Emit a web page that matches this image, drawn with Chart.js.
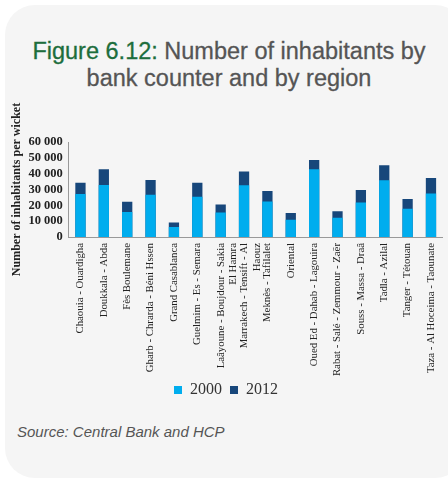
<!DOCTYPE html>
<html>
<head>
<meta charset="utf-8">
<script src="https://cdn.jsdelivr.net/npm/chart.js@4.4.0/dist/chart.umd.min.js"></script>
<style>
  html, body { margin: 0; padding: 0; background: #fff; width: 448px; height: 480px; overflow: hidden; }
  .card {
    position: absolute; left: 5px; top: 5px; width: 460px; height: 473px;
    background: #f5f5f5; border-radius: 30px;
  }
  .title {
    position: absolute; left: 0; top: 38px; width: 458px; text-align: center;
    font-family: "Liberation Sans", Arial, sans-serif; font-size: 23.5px; line-height: 27px; color: #555;
    -webkit-text-stroke: 0.3px #555;
  }
  .title b { color: #1d6e3d; font-weight: normal; -webkit-text-stroke: 0.3px #1d6e3d; }
  .wrap { position: absolute; left: 8px; top: 92px; width: 438px; height: 316px; }
  .source {
    position: absolute; left: 17px; top: 423px;
    font-family: "Liberation Sans", Arial, sans-serif; font-style: italic; font-size: 15px; color: #555;
  }
</style>
</head>
<body>
<div class="card"></div>
<div class="title"><b>Figure 6.12:</b> Number of inhabitants by<br>bank counter and by region</div>
<div class="wrap"><canvas id="chart"></canvas></div>
<div class="source">Source: Central Bank and HCP</div>
<script>
var regions = [
  'Chaouia - Ouardigha', 'Doukkala - Abda', 'Fès Boulemane', 'Gharb - Chrarda - Béni Hssen',
  'Grand Casablanca', 'Guelmim - Es - Semara', ['Laâyoune - Boujdour - Sakia', 'El Hamra'],
  ['Marrakech - Tensift - Al', 'Haouz'], 'Meknès - Tafilalet', 'Oriental', 'Oued Ed - Dahab - Lagouira',
  'Rabat - Salé - Zemmour - Zaër', 'Souss - Massa - Draâ', 'Tadla - Azilal', 'Tanger - Tétouan',
  'Taza - Al Hoceima - Taounate'
];
var values2000 = [27100, 32900, 15800, 26700, 6300, 25500, 15400, 32700, 22400, 10900, 42800, 12100, 21800, 35800, 17800, 27500];
var values2012 = [34300, 42800, 22200, 36000, 9100, 34300, 20600, 41400, 29100, 15200, 48700, 16200, 29700, 45300, 24000, 37200];
var yTicks = [0, 10000, 20000, 30000, 40000, 50000, 60000];

var serif = '"Liberation Serif", "Times New Roman", serif';

// long rotated region names must not be cut at the bottom of the x scale box
var noLabelClip = {
  id: 'noLabelClip',
  beforeDraw: function (chart) {
    chart.scales.x._computeLabelArea = function () { return undefined; };
  }
};

var ctx = document.getElementById('chart');
var chart = new Chart(ctx, {
  type: 'bar',
  data: {
    labels: regions,
    datasets: [
      { label: '2000', data: values2000, backgroundColor: '#00adee' },
      { label: '2012', data: values2012, backgroundColor: '#17477b' }
    ]
  },
  plugins: [noLabelClip],
  options: {
    responsive: true,
    maintainAspectRatio: false,
    animation: false,
    categoryPercentage: 0.44,
    barPercentage: 1,
    layout: { padding: { top: 50, right: 2 } },
    plugins: {
      tooltip: { enabled: false },
      legend: {
        position: 'bottom',
        labels: {
          boxWidth: 8, boxHeight: 8, padding: 8, color: '#333',
          font: { family: serif, size: 16 }
        }
      }
    },
    scales: {
      x: {
        stacked: true,
        afterFit: function (scale) { scale.height = 137; },
        grid: { display: false, drawTicks: true, offset: true, tickLength: 4, color: '#999' },
        border: { color: '#999' },
        ticks: {
          minRotation: 90, maxRotation: 90, autoSkip: false, padding: 2,
          color: '#222', font: { family: serif, size: 10.8 }
        }
      },
      y: {
        stacked: false,
        min: 0, max: 60000,
        afterBuildTicks: function (scale) {
          scale.ticks = yTicks.map(function (v) { return { value: v }; });
        },
        grid: { display: false, drawTicks: true, tickLength: 4, color: '#999' },
        border: { color: '#999' },
        title: {
          display: true, text: 'Number of inhabitants per wicket', color: '#222',
          font: { family: serif, size: 12, weight: 'bold' }, padding: 2
        },
        ticks: {
          autoSkip: false,
          color: '#222', font: { family: serif, size: 12.5, weight: 'bold' }, padding: 2,
          callback: function (v) { return String(v).replace(/\B(?=(\d{3})+(?!\d))/g, ' '); }
        }
      }
    }
  }
});
</script>
</body>
</html>
